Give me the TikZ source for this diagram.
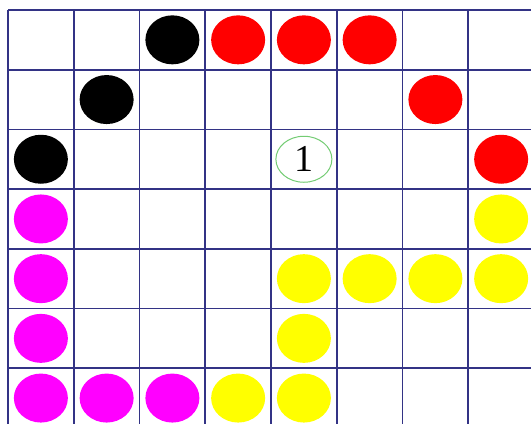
\documentclass[tikz,border=0pt]{standalone}
\usepackage{fontspec}
\setmainfont{Liberation Serif}
\usepackage{xcolor}
\usepackage{tikz}
\usetikzlibrary{shapes.geometric, positioning}
\definecolor{gridblue}{rgb}{0.20, 0.20, 0.52}
\definecolor{mymagenta}{rgb}{1.0, 0.0, 1.0}
\definecolor{myyellow}{rgb}{1.0, 1.0, 0.0}
\definecolor{myred}{rgb}{1.0, 0.0, 0.0}
\definecolor{mygreen}{rgb}{0.45, 0.80, 0.45}
\tikzstyle{disc} = [ellipse, minimum width=54pt, minimum height=49pt, inner sep=0pt]
\tikzstyle{gridline} = [gridblue, line width=1.8pt]

\begin{document}
\begin{tikzpicture}[x=65.75pt, y=-59.7pt]
\useasboundingbox (-0.1217,-0.1675) rectangle (7.954,6.918);
\clip (-0.1217,-0.1675) rectangle (7.954,6.918);
\fill[white] (-0.1217,-0.1675) rectangle (7.954,6.918);

% board
\foreach \i in {0,...,8} {
\draw[gridline] (\i,0) -- (\i,7);
}
\foreach \j in {0,...,7} {
\draw[gridline] (0,\j) -- (8,\j);
}

% black
\node[disc, fill=black] (k1) at (2.5,0.5) {};
\node[disc, fill=black] (k2) at (1.5,1.5) {};
\node[disc, fill=black] (k3) at (0.5,2.5) {};

% red
\node[disc, fill=myred] (r1) at (3.5,0.5) {};
\node[disc, fill=myred] (r2) at (4.5,0.5) {};
\node[disc, fill=myred] (r3) at (5.5,0.5) {};
\node[disc, fill=myred] (r4) at (6.5,1.5) {};
\node[disc, fill=myred] (r5) at (7.5,2.5) {};

% magenta
\node[disc, fill=mymagenta] (m1) at (0.5,3.5) {};
\node[disc, fill=mymagenta] (m2) at (0.5,4.5) {};
\node[disc, fill=mymagenta] (m3) at (0.5,5.5) {};
\node[disc, fill=mymagenta] (m4) at (0.5,6.5) {};
\node[disc, fill=mymagenta] (m5) at (1.5,6.5) {};
\node[disc, fill=mymagenta] (m6) at (2.5,6.5) {};

% yellow
\node[disc, fill=myyellow] (y1) at (7.5,3.5) {};
\node[disc, fill=myyellow] (y2) at (7.5,4.5) {};
\node[disc, fill=myyellow] (y3) at (6.5,4.5) {};
\node[disc, fill=myyellow] (y4) at (5.5,4.5) {};
\node[disc, fill=myyellow] (y5) at (4.5,4.5) {};
\node[disc, fill=myyellow] (y6) at (4.5,5.5) {};
\node[disc, fill=myyellow] (y7) at (4.5,6.5) {};
\node[disc, fill=myyellow] (y8) at (3.5,6.5) {};

% marked cell
\node[
ellipse,
draw=mygreen,
line width=1pt,
minimum width=56pt,
minimum height=46pt,
inner sep=0pt,
font=\fontsize{38}{38}\selectfont
] (mark) at (4.5,2.5) {1};
\end{tikzpicture}
\end{document}
